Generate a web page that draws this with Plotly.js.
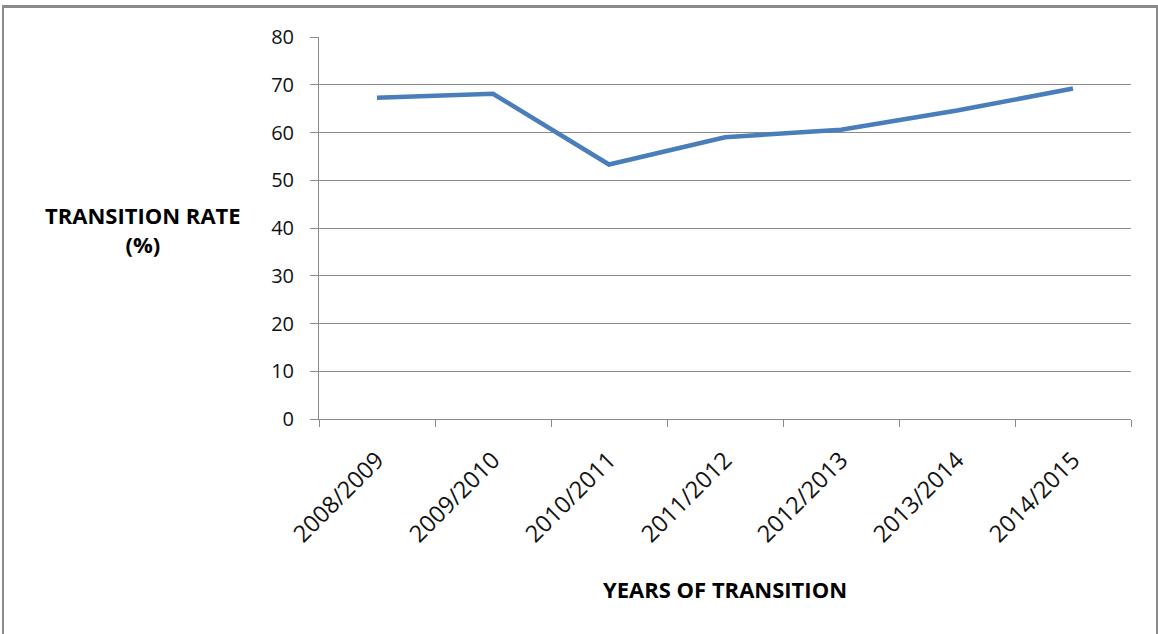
<!DOCTYPE html>
<html>
<head>
<meta charset="utf-8">
<script src="https://cdn.plot.ly/plotly-3.0.1.min.js"></script>
<style>
  html, body { margin: 0; padding: 0; background: #fff; }
  #frame { position: absolute; left: 2px; top: 5px; width: 1152px; height: 640px;
           border-left: 2px solid #8a8a8a; border-right: 2px solid #8a8a8a; border-top: 3px solid #8a8a8a; }
  #chart { position: absolute; left: 0; top: 0; width: 1158px; height: 634px; }
</style>
</head>
<body>
<div id="frame"></div>
<div id="chart"></div>
<script>
const years = ["2008/2009", "2009/2010", "2010/2011", "2011/2012", "2012/2013", "2013/2014", "2014/2015"];
const transitionRate = [67.3, 68.1, 53.3, 59.0, 60.6, 64.6, 69.2];
const yTicks = [0, 10, 20, 30, 40, 50, 60, 70, 80];
const yTitle = "TRANSITION RATE<br>(%)";
const xTitle = "YEARS OF TRANSITION";

const FONT = "'Open Sans', 'DejaVu Sans', sans-serif";

const trace = {
  x: years,
  y: transitionRate,
  type: "scatter",
  mode: "lines",
  line: { color: "#4A7EBB", width: 4.5 },
  hoverinfo: "x+y"
};

const layout = {
  width: 1158,
  height: 634,
  margin: { l: 319, r: 27, t: 37, b: 215 },
  paper_bgcolor: "rgba(0,0,0,0)",
  plot_bgcolor: "rgba(0,0,0,0)",
  showlegend: false,
  font: { family: FONT, size: 20, color: "#111" },
  xaxis: {
    type: "category",
    range: [-0.5, years.length - 0.5],
    tickson: "boundaries",
    ticks: "outside",
    ticklen: 7,
    tickcolor: "#8a8a8a",
    tickwidth: 1,
    showline: true,
    linecolor: "#8a8a8a",
    linewidth: 1,
    showgrid: false,
    zeroline: false,
    tickangle: -45,
    ticklabelstandoff: 17,
    tickfont: { family: FONT, size: 23.5, color: "#111" },
    fixedrange: true
  },
  yaxis: {
    range: [0, 80],
    tickvals: yTicks,
    ticktext: yTicks.map(String),
    ticks: "outside",
    ticklen: 8,
    tickcolor: "#8a8a8a",
    tickwidth: 1,
    showline: true,
    linecolor: "#8a8a8a",
    linewidth: 1,
    showgrid: true,
    gridcolor: "#8a8a8a",
    gridwidth: 1,
    zeroline: false,
    ticklabelstandoff: 12,
    tickfont: { family: FONT, size: 20, color: "#111" },
    fixedrange: true
  },
  annotations: [
    {
      text: "<b>" + yTitle.replace("<br>", "</b><br><b>") + "</b>",
      xref: "paper", yref: "paper",
      x: (143 - 319) / 812, y: (419 - 230) / 382,
      xanchor: "center", yanchor: "middle",
      showarrow: false, align: "center",
      font: { family: FONT, size: 22, color: "#000" }
    },
    {
      text: "<b>" + xTitle + "</b>",
      xref: "paper", yref: "paper",
      x: 0.5, y: (419 - 589) / 382,
      xanchor: "center", yanchor: "middle",
      showarrow: false,
      font: { family: FONT, size: 22, color: "#000" }
    }
  ]
};

Plotly.newPlot("chart", [trace], layout, { displayModeBar: false, staticPlot: true });
</script>
</body>
</html>
